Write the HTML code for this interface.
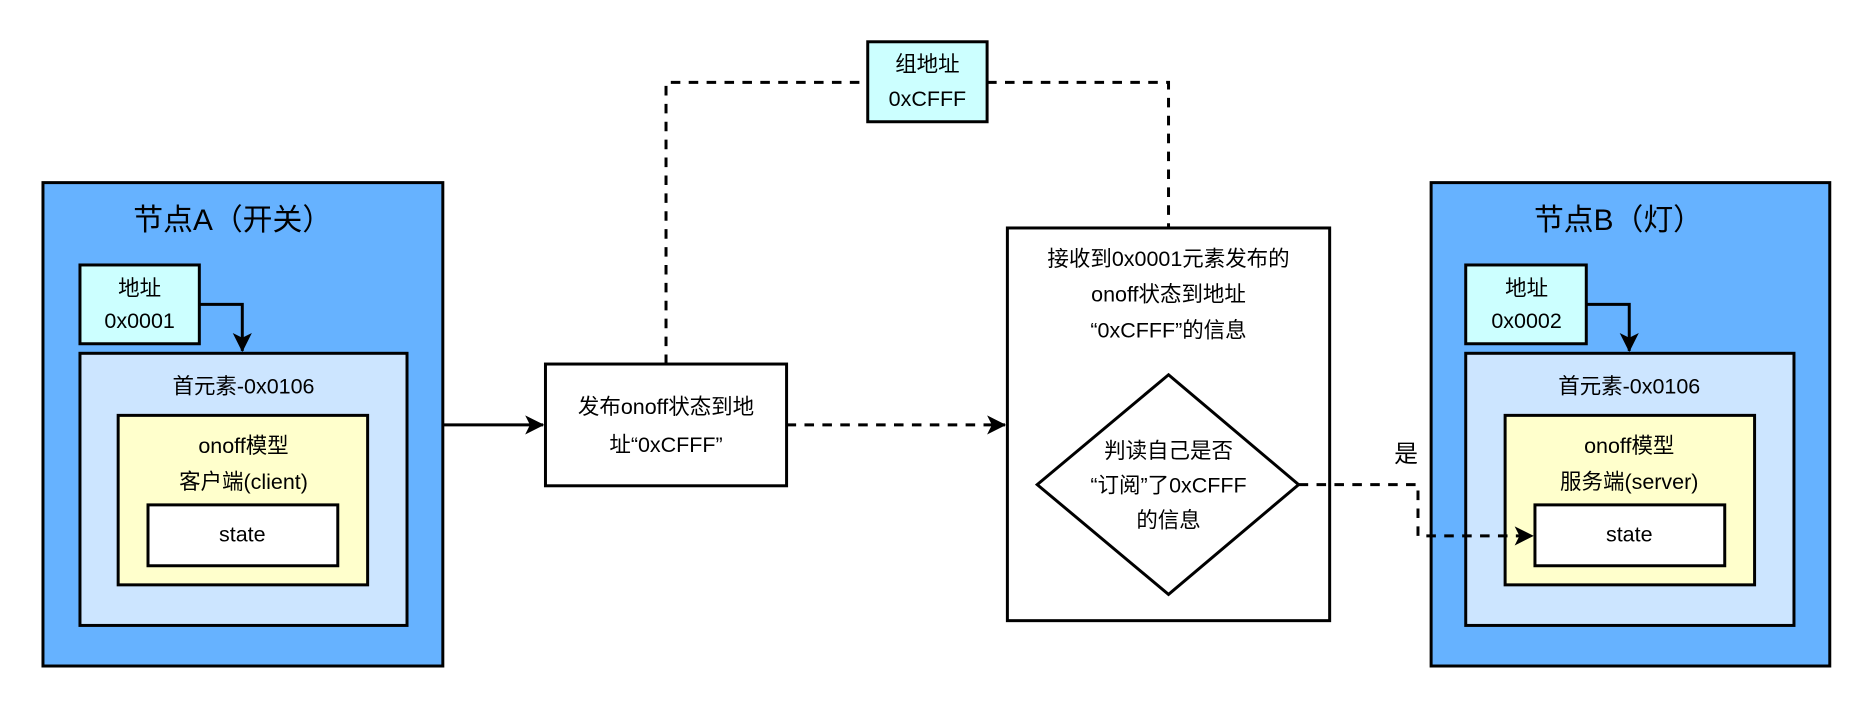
<!DOCTYPE html>
<html><head><meta charset="utf-8"><style>
html,body{margin:0;padding:0;background:#fff;}
svg{display:block;}
text{font-family:"Liberation Sans","Noto Sans CJK SC",sans-serif;fill:#000;text-anchor:middle;dominant-baseline:middle;}
</style></head><body>
<svg width="1862" height="706" viewBox="0 0 1560 591.5" preserveAspectRatio="none" xmlns="http://www.w3.org/2000/svg">
<defs>
<marker id="ar" markerWidth="10" markerHeight="10" refX="9" refY="5" orient="auto" markerUnits="userSpaceOnUse" viewBox="0 0 10 10">
<path d="M0,0 L10,5 L0,10 L3,5 Z" fill="#000"/>
</marker>
<marker id="ar2" markerWidth="16" markerHeight="16" refX="15" refY="8" orient="auto" markerUnits="userSpaceOnUse" viewBox="0 0 16 16">
<path d="M0,0 L16,8 L0,16 L4,8 Z" fill="#000"/>
</marker>
</defs>
<g stroke="#000" stroke-width="2.5">
<!-- Node A -->
<rect x="36" y="153" width="335" height="405" fill="#66B2FF"/>
<rect x="67" y="222" width="100" height="66" fill="#CCFFFF"/>
<rect x="67" y="296" width="274" height="228" fill="#CCE5FF"/>
<rect x="99" y="348" width="209" height="142" fill="#FFFFCC"/>
<rect x="124" y="423" width="159" height="51" fill="#fff"/>
<!-- Node B -->
<rect x="1199" y="153" width="334" height="405" fill="#66B2FF"/>
<rect x="1228" y="222" width="101" height="66" fill="#CCFFFF"/>
<rect x="1228" y="296" width="275" height="228" fill="#CCE5FF"/>
<rect x="1261" y="348" width="209" height="142" fill="#FFFFCC"/>
<rect x="1286" y="423" width="159" height="51" fill="#fff"/>
<!-- middle -->
<rect x="457" y="305" width="202" height="102" fill="#fff"/>
<rect x="844" y="191" width="270" height="329" fill="#fff"/>
<polygon points="979,314 1088,406 979,498 869,406" fill="#fff"/>
<rect x="727" y="35" width="100" height="67" fill="#CCFFFF"/>
</g>
<g fill="none" stroke="#000" stroke-width="2.5">
<polyline points="167,255 203,255 203,294" marker-end="url(#ar2)"/>
<polyline points="1329,255 1365,255 1365,294" marker-end="url(#ar2)"/>
<line x1="371" y1="356" x2="455" y2="356" marker-end="url(#ar2)"/>
<line x1="659" y1="356" x2="842" y2="356" stroke-dasharray="8,7" marker-end="url(#ar2)"/>
<polyline points="1088,406 1188,406 1188,449 1284,449" stroke-dasharray="8,7" marker-end="url(#ar2)"/>
<polyline points="558,305 558,69 727,69" stroke-dasharray="8,7"/>
<polyline points="827,69 979,69 979,191" stroke-dasharray="8,7"/>
</g>
<text x="195" y="186" font-size="25">节点A（开关）</text>
<text x="117" y="243" font-size="18">地址</text>
<text x="117" y="270" font-size="18">0x0001</text>
<text x="204" y="325" font-size="18">首元素-0x0106</text>
<text x="204" y="375" font-size="18">onoff模型</text>
<text x="204" y="405" font-size="18">客户端(client)</text>
<text x="203" y="449" font-size="18">state</text>
<text x="1356" y="186" font-size="25">节点B（灯）</text>
<text x="1279" y="243" font-size="18">地址</text>
<text x="1279" y="270" font-size="18">0x0002</text>
<text x="1365" y="325" font-size="18">首元素-0x0106</text>
<text x="1365" y="375" font-size="18">onoff模型</text>
<text x="1365" y="405" font-size="18">服务端(server)</text>
<text x="1365" y="449" font-size="18">state</text>
<text x="558" y="342" font-size="18">发布onoff状态到地</text>
<text x="558" y="374" font-size="18">址“0xCFFF”</text>
<text x="979" y="218" font-size="18">接收到0x0001元素发布的</text>
<text x="979" y="248" font-size="18">onoff状态到地址</text>
<text x="979" y="278" font-size="18">“0xCFFF”的信息</text>
<text x="979" y="379" font-size="18">判读自己是否</text>
<text x="979" y="408" font-size="18">“订阅”了0xCFFF</text>
<text x="979" y="437" font-size="18">的信息</text>
<text x="1178" y="382" font-size="20">是</text>
<text x="777" y="55" font-size="18">组地址</text>
<text x="777" y="84" font-size="18">0xCFFF</text>
</svg>
</body></html>
